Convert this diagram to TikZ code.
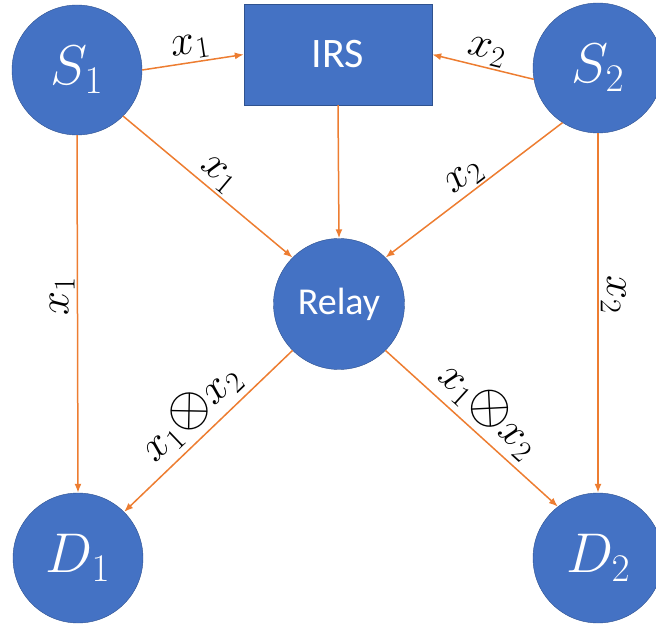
\documentclass[tikz,border=0pt]{standalone}
\usepackage{fix-cm}
\usepackage{fontspec}
\newfontfamily\calibri{Carlito}
\usetikzlibrary{arrows.meta}
\definecolor{nodeblue}{HTML}{4472C4}
\definecolor{rimblue}{HTML}{2F528F}
\definecolor{linkorange}{HTML}{ED7D31}
\newcommand{\xorsym}{{\scalebox{1.3}{$\otimes$}}}

\begin{document}
\begin{tikzpicture}[x=1pt, y=-1pt,
  terminal/.style={draw=rimblue, fill=nodeblue, circle, minimum size=130pt,
    inner sep=0pt, text=white, font=\fontsize{56}{60}\selectfont},
  hub/.style={draw=rimblue, fill=nodeblue, text=white},
  link/.style={draw=linkorange, line width=1.5pt, -{Latex[length=9pt,width=7pt]}},
  lbl/.style={font=\fontsize{43}{46}\selectfont, inner sep=2pt}]
  \useasboundingbox (0,0) rectangle (656,628);

  \node[terminal] (S1) at (77,70) {$S_1$};
  \node[terminal] (S2) at (598,68) {$S_2$};
  \node[hub, rectangle, minimum width=188pt, minimum height=101pt,
    font=\calibri\fontsize{42}{48}\selectfont] (IRS) at (338,54.5) {IRS};
  \node[hub, circle, minimum size=131pt, inner sep=0pt,
    font=\calibri\fontsize{38}{44}\selectfont] (Relay) at (339,304) {Relay};
  \node[terminal] (D1) at (78,558) {$D_1$};
  \node[terminal] (D2) at (598,558) {$D_2$};

  % sources to IRS and relay
  \draw[link] (S1.east) -- node[lbl, above, sloped] {$x_1$} (IRS.west);
  \draw[link] (S2.190) -- node[lbl, above, sloped] {$x_2$} (IRS.east);
  \draw[link] (S1.-45) -- node[lbl, above, sloped] {$x_1$} (Relay.135);
  \draw[link] (S2.237) -- node[lbl, above, sloped] {$x_2$} (Relay.45);
  \draw[link] (IRS.south) -- (Relay.north);
  % direct links
  \draw[link] (S1.south) -- node[lbl, pos=0.45, rotate=90, anchor=south] {$x_1$} (D1.north);
  \draw[link] (S2.south) -- node[lbl, pos=0.45, rotate=-90, anchor=south] {$x_2$} (D2.north);
  % relay to destinations
  \draw[link] (Relay.225) -- node[lbl, above=4pt, sloped] {$x_1\xorsym x_2$} (D1.45);
  \draw[link] (Relay.-45) -- node[lbl, above=4pt, sloped] {$x_1\xorsym x_2$} (D2.128);
\end{tikzpicture}
\end{document}
